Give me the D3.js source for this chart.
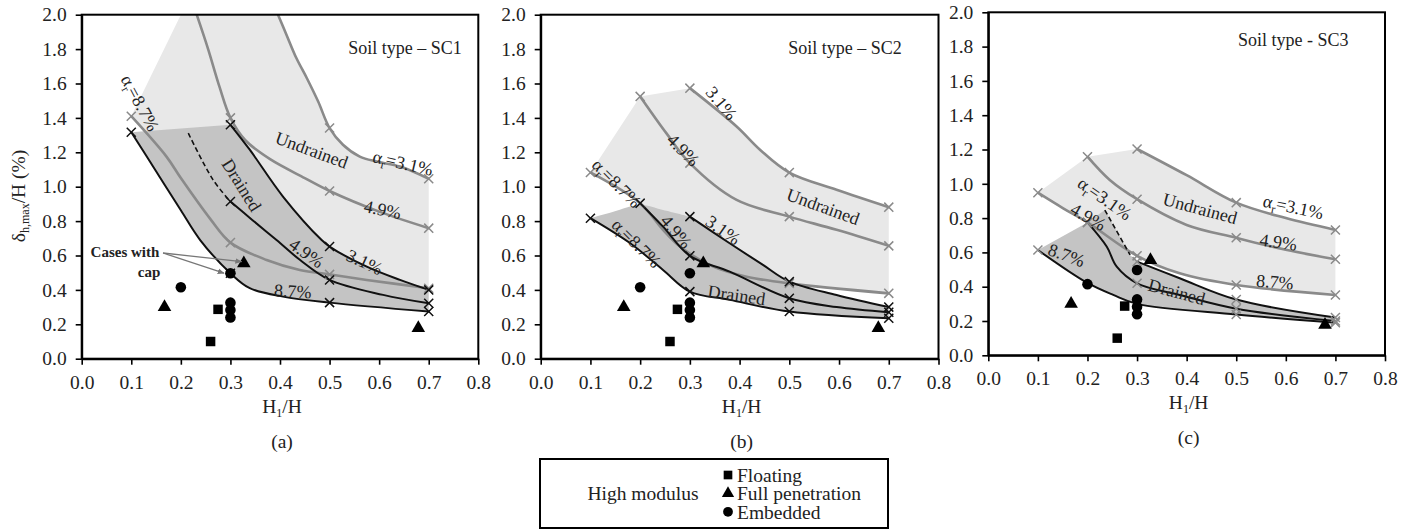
<!DOCTYPE html>
<html>
<head>
<meta charset="utf-8">
<script src="https://cdnjs.cloudflare.com/ajax/libs/d3/7.8.5/d3.min.js"></script>
<style>
  body { margin: 0; background: #fff; }
  svg { display: block; font-family: "Liberation Serif", "Times New Roman", serif; }
</style>
</head>
<body>
<div id="chart"></div>
<script>

// tick values
var xTicks = [0, 0.1, 0.2, 0.3, 0.4, 0.5, 0.6, 0.7, 0.8];
var xMinor = [0.05, 0.15, 0.25, 0.35, 0.45, 0.55, 0.65, 0.75];
var yTicks = [0, 0.2, 0.4, 0.6, 0.8, 1.0, 1.2, 1.4, 1.6, 1.8, 2.0];
var yMinor = [0.1, 0.3, 0.5, 0.7, 0.9, 1.1, 1.3, 1.5, 1.7, 1.9];

// field cases, same in the three panels
var floating = [[0.26, 0.10], [0.275, 0.287]];
var fullPenetration = [[0.167, 0.30], [0.327, 0.555], [0.679, 0.178]];
var embedded = [[0.2, 0.415], [0.3, 0.497], [0.3, 0.326], [0.3, 0.283], [0.3, 0.24]];

// (a) soil SC1
var a_und31 = [[0.396, 2.0], [0.413, 1.884], [0.433, 1.748], [0.454, 1.632], [0.477, 1.495], [0.5, 1.341], [0.527, 1.244], [0.561, 1.175], [0.595, 1.146], [0.642, 1.117], [0.7, 1.046]];
var a_und49 = [[0.232, 2.0], [0.255, 1.80], [0.278, 1.58], [0.3, 1.40], [0.33, 1.27], [0.38, 1.16], [0.45, 1.05], [0.5, 0.975], [0.6, 0.855], [0.7, 0.759]];
var a_und87 = [[0.1, 1.41], [0.171, 1.175], [0.2, 1.05], [0.26, 0.81], [0.3, 0.675], [0.373, 0.574], [0.44, 0.516], [0.5, 0.49], [0.575, 0.458], [0.7, 0.41]];
var a_undCorner = [[0.2, 2.0]];
var a_dr31 = [[0.3, 1.36], [0.339, 1.215], [0.406, 0.943], [0.484, 0.69], [0.5, 0.652], [0.575, 0.535], [0.642, 0.458], [0.7, 0.40]];
var a_dr49Dash = [[0.215, 1.311], [0.265, 1.04], [0.3, 0.914]];
var a_dr49 = [[0.3, 0.914], [0.344, 0.807], [0.393, 0.69], [0.44, 0.575], [0.5, 0.458], [0.608, 0.371], [0.7, 0.322]];
var a_dr87 = [[0.1, 1.317], [0.15, 1.09], [0.2, 0.863], [0.239, 0.69], [0.3, 0.497], [0.339, 0.41], [0.406, 0.361], [0.5, 0.326], [0.7, 0.274]];

// (b) soil SC2
var b_und31 = [[0.3, 1.573], [0.394, 1.35], [0.441, 1.215], [0.5, 1.082], [0.595, 0.982], [0.7, 0.881]];
var b_und49 = [[0.2, 1.525], [0.253, 1.31], [0.3, 1.137], [0.394, 0.923], [0.5, 0.826], [0.595, 0.749], [0.7, 0.656]];
var b_und87 = [[0.1, 1.083], [0.2, 0.904], [0.246, 0.749], [0.28, 0.652], [0.347, 0.535], [0.414, 0.477], [0.5, 0.438], [0.7, 0.38]];
var b_dr31 = [[0.3, 0.826], [0.38, 0.671], [0.447, 0.545], [0.5, 0.448], [0.595, 0.37], [0.7, 0.30]];
var b_dr49 = [[0.2, 0.904], [0.246, 0.768], [0.3, 0.598], [0.38, 0.506], [0.5, 0.351], [0.595, 0.30], [0.7, 0.27]];
var b_dr87 = [[0.1, 0.817], [0.18, 0.671], [0.246, 0.516], [0.3, 0.39], [0.38, 0.342], [0.5, 0.274], [0.7, 0.235]];
var b_drTop = [[0.1, 0.817], [0.146, 0.855], [0.2, 0.894], [0.246, 0.865], [0.3, 0.826]];

// (c) soil SC3
var c_und31 = [[0.3, 1.203], [0.4, 1.05], [0.5, 0.89], [0.6, 0.80], [0.7, 0.731]];
var c_und49 = [[0.2, 1.158], [0.245, 1.022], [0.3, 0.91], [0.4, 0.76], [0.5, 0.685], [0.6, 0.615], [0.7, 0.56]];
var c_und87 = [[0.1, 0.948], [0.151, 0.857], [0.2, 0.775], [0.3, 0.58], [0.386, 0.478], [0.5, 0.41], [0.7, 0.352]];
var c_dr31Dash = [[0.235, 0.847], [0.286, 0.585]];
var c_dr31 = [[0.3, 0.546], [0.386, 0.449], [0.5, 0.325], [0.7, 0.22]];
var c_dr49 = [[0.2, 0.775], [0.239, 0.633], [0.259, 0.517], [0.3, 0.42], [0.386, 0.352], [0.5, 0.272], [0.7, 0.20]];
var c_dr87 = [[0.1, 0.614], [0.198, 0.425], [0.252, 0.352], [0.3, 0.30], [0.5, 0.238], [0.7, 0.19]];

var svg = d3.select("#chart").append("svg")
  .attr("width", 1411)
  .attr("height", 529);

var grayLine = "#8a8a8a";
var lightFill = "#e8e8e8";
var darkFill = "#c4c4c4";

function last(a) { return a[a.length - 1]; }
function rev(a) { return a.slice().reverse(); }

var panels = [
  {
    box: { left: 81.7, right: 478.3, top: 14.7, bottom: 358.7 },
    nodes: [0.1, 0.3, 0.5, 0.7],
    letter: "(a)",
    soil: "Soil type \u2013 SC1", soilAt: [0.652, 1.808],
    und: [a_und31, a_und49, a_und87],
    dr: [a_dr31, a_dr49, a_dr87],
    dash: [a_dr49Dash],
    undFill: [[[a_und87[0]].concat(a_undCorner, [a_und31[0]]), false], [a_und31, true], [[last(a_und31), last(a_und87)], false], [rev(a_und87), true]],
    drFill: [[[a_dr87[0], a_dr31[0]], false], [a_dr31, true], [[last(a_dr31), last(a_dr87)], false], [rev(a_dr87), true]],
    drMark: "#111",
    labels: [
      { t: "=8.7%", a: true, x: 0.118, y: 1.487, r: 62 },
      { t: "Undrained", x: 0.464, y: 1.214, r: 20 },
      { t: "=3.1%", a: true, x: 0.648, y: 1.139, r: 13 },
      { t: "4.9%", x: 0.607, y: 0.868, r: 12 },
      { t: "Drained", x: 0.323, y: 1.01, r: 58 },
      { t: "4.9%", x: 0.454, y: 0.615, r: 35 },
      { t: "3.1%", x: 0.571, y: 0.563, r: 25 },
      { t: "8.7%", x: 0.426, y: 0.394, r: 3 }
    ],
    yTitle: true
  },
  {
    box: { left: 540.7, right: 938.5, top: 14.7, bottom: 358.7 },
    nodes: [0.1, 0.2, 0.3, 0.5, 0.7],
    letter: "(b)",
    soil: "Soil type \u2013 SC2", soilAt: [0.612, 1.808],
    und: [b_und31, b_und49, b_und87],
    dr: [b_dr31, b_dr49, b_dr87],
    dash: [],
    undFill: [[[b_und87[0], b_und49[0], b_und31[0]], false], [b_und31, true], [[last(b_und31), last(b_und87)], false], [rev(b_und87), true]],
    drFill: [[b_drTop, true], [b_dr31, true], [[last(b_dr31), last(b_dr87)], false], [rev(b_dr87), true]],
    drMark: "#111",
    labels: [
      { t: "3.1%", x: 0.364, y: 1.486, r: 50 },
      { t: "4.9%", x: 0.287, y: 1.214, r: 45 },
      { t: "=8.7%", a: true, x: 0.153, y: 1.021, r: 45 },
      { t: "Undrained", x: 0.568, y: 0.885, r: 20 },
      { t: "4.9%", x: 0.273, y: 0.739, r: 50 },
      { t: "3.1%", x: 0.367, y: 0.749, r: 35 },
      { t: "=8.7%", a: true, x: 0.193, y: 0.672, r: 45 },
      { t: "Drained", x: 0.394, y: 0.371, r: 8 }
    ]
  },
  {
    box: { left: 988.3, right: 1385, top: 12.3, bottom: 355.3 },
    nodes: [0.1, 0.2, 0.3, 0.5, 0.7],
    letter: "(c)",
    soil: "Soil type - SC3", soilAt: [0.615, 1.843],
    und: [c_und31, c_und49, c_und87],
    dr: [c_dr31, c_dr49, c_dr87],
    dash: [c_dr31Dash],
    undFill: [[[c_und87[0], c_und49[0], c_und31[0]], false], [c_und31, true], [[last(c_und31), last(c_und87)], false], [rev(c_und87), true]],
    drFill: [[[c_dr87[0], c_dr49[0], c_dr31Dash[0]], false], [c_dr31Dash, false], [c_dr31, true], [[last(c_dr31), last(c_dr87)], false], [rev(c_dr87), true]],
    drMark: grayLine,
    labels: [
      { t: "=3.1%", a: true, x: 0.235, y: 0.915, r: 35 },
      { t: "4.9%", x: 0.202, y: 0.808, r: 30 },
      { t: "8.7%", x: 0.158, y: 0.585, r: 20 },
      { t: "Undrained", x: 0.427, y: 0.857, r: 15 },
      { t: "=3.1%", a: true, x: 0.615, y: 0.866, r: 12 },
      { t: "4.9%", x: 0.585, y: 0.662, r: 8 },
      { t: "8.7%", x: 0.578, y: 0.429, r: 5 },
      { t: "Drained", x: 0.38, y: 0.371, r: 15 }
    ]
  }
];

svg.append("defs").append("marker")
  .attr("id", "arrow")
  .attr("viewBox", "0 0 10 10")
  .attr("refX", 9).attr("refY", 5)
  .attr("markerWidth", 7).attr("markerHeight", 7)
  .attr("markerUnits", "userSpaceOnUse")
  .attr("orient", "auto")
  .append("path").attr("d", "M0,1L10,5L0,9Z").attr("fill", "#777");

panels.forEach(function(p, pi) {
  var box = p.box;
  var x = d3.scaleLinear().domain([0, 0.8]).range([box.left, box.right]);
  var y = d3.scaleLinear().domain([0, 2]).range([box.bottom, box.top]);
  var g = svg.append("g");

  var clipId = "clip" + pi;
  g.append("clipPath").attr("id", clipId).append("rect")
    .attr("x", box.left).attr("y", box.top)
    .attr("width", box.right - box.left).attr("height", box.bottom - box.top);

  var plot = g.append("g").attr("clip-path", "url(#" + clipId + ")");

  var smooth = d3.line().x(d => x(d[0])).y(d => y(d[1])).curve(d3.curveCatmullRom.alpha(0.5));
  var straight = d3.line().x(d => x(d[0])).y(d => y(d[1]));

  function area(segs) {
    var d = "";
    segs.forEach(function(s, i) {
      var part = (s[1] ? smooth : straight)(s[0]);
      d += i === 0 ? part : part.replace(/^M/, "L");
    });
    return d + "Z";
  }

  plot.append("path").attr("d", area(p.undFill)).attr("fill", lightFill);
  plot.append("path").attr("d", area(p.drFill)).attr("fill", darkFill);

  p.und.forEach(function(c) {
    plot.append("path").attr("d", smooth(c)).attr("fill", "none")
      .attr("stroke", grayLine).attr("stroke-width", 2.6);
  });
  p.dr.forEach(function(c) {
    plot.append("path").attr("d", smooth(c)).attr("fill", "none")
      .attr("stroke", "#111").attr("stroke-width", 2);
  });
  p.dash.forEach(function(c) {
    plot.append("path").attr("d", smooth(c)).attr("fill", "none")
      .attr("stroke", "#111").attr("stroke-width", 1.6).attr("stroke-dasharray", "5,3");
  });

  // cross markers at the computed H1/H values
  var cross = d3.symbol().type(d3.symbolTimes).size(55);
  function crosses(curves, color) {
    curves.forEach(function(c) {
      var pts = c.filter(d => p.nodes.some(n => Math.abs(n - d[0]) < 1e-6));
      plot.selectAll(null).data(pts).enter().append("path")
        .attr("d", cross)
        .attr("transform", d => `translate(${x(d[0])},${y(d[1])})`)
        .attr("fill", "none").attr("stroke", color).attr("stroke-width", 1.5);
    });
  }
  crosses(p.und, grayLine);
  crosses(p.dr, p.drMark);

  // curve labels
  p.labels.forEach(function(l) {
    var t = g.append("text")
      .attr("transform", `translate(${x(l.x)},${y(l.y)}) rotate(${l.r})`)
      .attr("text-anchor", "middle").attr("dy", "0.35em")
      .attr("font-size", 18).attr("fill", "#222");
    if (l.a) {
      t.append("tspan").text("\u03b1");
      t.append("tspan").attr("font-size", 12).attr("dy", 4).text("r");
      t.append("tspan").attr("dy", -4).text(l.t);
    } else {
      t.text(l.t);
    }
  });

  g.append("text")
    .attr("x", x(p.soilAt[0])).attr("y", y(p.soilAt[1]))
    .attr("text-anchor", "middle").attr("dy", "0.35em")
    .attr("font-size", 18).attr("fill", "#222")
    .text(p.soil);

  // field cases
  g.selectAll(null).data(floating).enter().append("path")
    .attr("d", d3.symbol().type(d3.symbolSquare).size(90))
    .attr("transform", d => `translate(${x(d[0])},${y(d[1])})`)
    .attr("fill", "#000");
  g.selectAll(null).data(fullPenetration).enter().append("path")
    .attr("d", d3.symbol().type(d3.symbolTriangle).size(80))
    .attr("transform", d => `translate(${x(d[0])},${y(d[1])})`)
    .attr("fill", "#000");
  g.selectAll(null).data(embedded).enter().append("circle")
    .attr("cx", d => x(d[0])).attr("cy", d => y(d[1])).attr("r", 5.3)
    .attr("fill", "#000");

  // frame and axes
  g.append("rect")
    .attr("x", box.left).attr("y", box.top)
    .attr("width", box.right - box.left).attr("height", box.bottom - box.top)
    .attr("fill", "none").attr("stroke", "#000").attr("stroke-width", 2);

  var fmt = d3.format(".1f");
  var xg = g.append("g").attr("transform", `translate(0,${box.bottom})`);
  xg.call(d3.axisBottom(x).tickValues(xMinor).tickSize(4).tickSizeOuter(0).tickFormat(""));
  xg.call(d3.axisBottom(x).tickValues(xTicks).tickSize(6).tickSizeOuter(0).tickPadding(10).tickFormat(fmt));
  var yg = g.append("g").attr("transform", `translate(${box.left},0)`);
  yg.call(d3.axisLeft(y).tickValues(yMinor).tickSize(4).tickSizeOuter(0).tickFormat(""));
  yg.call(d3.axisLeft(y).tickValues(yTicks).tickSize(6).tickSizeOuter(0).tickPadding(9).tickFormat(fmt));

  [xg, yg].forEach(function(a) {
    a.attr("font-family", null).attr("font-size", 19.5);
    a.selectAll(".domain").attr("stroke-width", 2);
    a.selectAll(".tick line").attr("stroke-width", 1.6);
    a.selectAll("text").attr("fill", "#222");
  });

  var xt = g.append("text")
    .attr("x", (box.left + box.right) / 2 + 2).attr("y", box.bottom + 54)
    .attr("text-anchor", "middle").attr("font-size", 19.5).attr("fill", "#222");
  xt.append("tspan").text("H");
  xt.append("tspan").attr("font-size", 12).attr("dy", 4).text("1");
  xt.append("tspan").attr("dy", -4).text("/H");

  g.append("text")
    .attr("x", (box.left + box.right) / 2 + 2).attr("y", box.bottom + 89)
    .attr("text-anchor", "middle").attr("font-size", 19.5).attr("fill", "#222")
    .text(p.letter);

  if (p.yTitle) {
    var yt = g.append("text")
      .attr("transform", "translate(25,196) rotate(-90)")
      .attr("text-anchor", "middle").attr("font-size", 19.5).attr("fill", "#222");
    yt.append("tspan").text("\u03b4");
    yt.append("tspan").attr("font-size", 12).attr("dy", 4).text("h,max");
    yt.append("tspan").attr("dy", -4).text("/H (%)");

    // note for the capped cases
    g.append("text").attr("x", 125).attr("y", 252).attr("dy", "0.35em")
      .attr("text-anchor", "middle").attr("font-size", 15).attr("font-weight", "bold")
      .attr("fill", "#222").text("Cases with");
    g.append("text").attr("x", 149).attr("y", 272).attr("dy", "0.35em")
      .attr("text-anchor", "middle").attr("font-size", 15).attr("font-weight", "bold")
      .attr("fill", "#222").text("cap");
    [[0.3226, 0.564], [0.287, 0.497]].forEach(function(t) {
      g.append("line")
        .attr("x1", 163).attr("y1", 253)
        .attr("x2", x(t[0])).attr("y2", y(t[1]))
        .attr("stroke", "#777").attr("stroke-width", 1.3)
        .attr("marker-end", "url(#arrow)");
    });
  }
});

// legend
var legend = svg.append("g");
legend.append("rect")
  .attr("x", 540).attr("y", 459).attr("width", 348).attr("height", 69)
  .attr("fill", "#fff").attr("stroke", "#000").attr("stroke-width", 2);
legend.append("text").attr("x", 643).attr("y", 493).attr("dy", "0.35em")
  .attr("text-anchor", "middle").attr("font-size", 19.5).attr("fill", "#222")
  .text("High modulus");

var legendItems = [
  { name: "Floating", type: d3.symbolSquare, size: 75 },
  { name: "Full penetration", type: d3.symbolTriangle, size: 65 },
  { name: "Embedded", type: d3.symbolCircle, size: 75 }
];
legendItems.forEach(function(it, i) {
  var yy = 475 + i * 18.4;
  legend.append("path")
    .attr("d", d3.symbol().type(it.type).size(it.size))
    .attr("transform", `translate(728,${yy})`)
    .attr("fill", "#000");
  legend.append("text").attr("x", 737).attr("y", yy).attr("dy", "0.35em")
    .attr("font-size", 19.5).attr("fill", "#222").text(it.name);
});

</script>
</body>
</html>
